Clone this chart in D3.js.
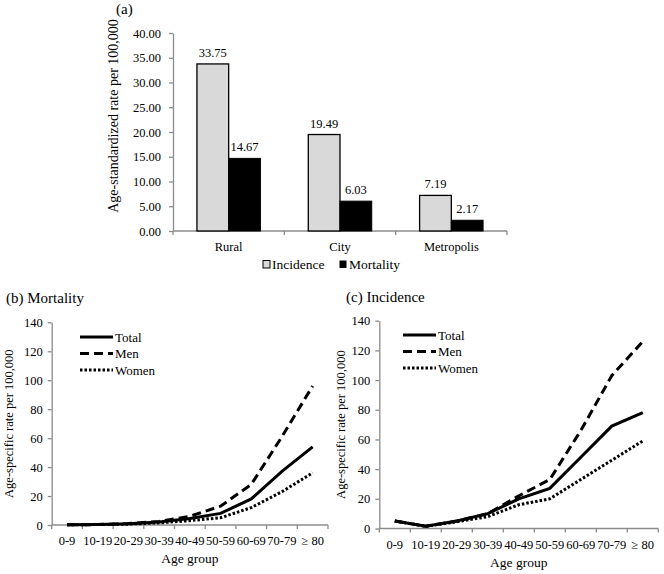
<!DOCTYPE html>
<html><head><meta charset="utf-8">
<script src="https://cdn.jsdelivr.net/npm/d3@7"></script>
<style>body{margin:0;background:#fff}svg{display:block}</style>
</head><body>
<svg id="c" width="664" height="574"></svg>
<script>
// ---- data ----
const areas = ["Rural", "City", "Metropolis"];
const incidenceRate = [33.75, 19.49, 7.19];
const mortalityRate = [14.67, 6.03, 2.17];
const barTicks = [0, 5, 10, 15, 20, 25, 30, 35, 40];

const ageGroups = ["0-9", "10-19", "20-29", "30-39", "40-49", "50-59", "60-69", "70-79", "\u2265 80"];
const mortTotal = [0.1, 0.3, 0.8, 2, 4.5, 8, 18, 37, 54];
const mortMen   = [0.1, 0.3, 1, 2.5, 6, 13, 28, 61, 96];
const mortWomen = [0.1, 0.3, 0.6, 1.5, 3, 5, 12, 23, 36];
const incTotal = [5, 1.5, 5, 10, 20, 27, 48, 69, 78];
const incMen   = [5, 1.5, 5, 10, 22, 33, 66, 103, 126];
const incWomen = [5, 1.5, 4.5, 8, 16, 20, 33, 46, 59];
const lineTicks = [0, 20, 40, 60, 80, 100, 120, 140];
const seriesNames = ["Total", "Men", "Women"];

const FONT = "'Liberation Serif', Tinos, 'Times New Roman', Times, 'DejaVu Serif', 'Noto Serif', serif";
const svg = d3.select("#c").attr("font-family", FONT);
const axisCol = "#8c8c8c";

function styleAxis(g) {
  g.attr("font-family", FONT);
  g.select(".domain").attr("stroke", axisCol).attr("stroke-width", 1.3);
  g.selectAll(".tick line").attr("stroke", axisCol).attr("stroke-width", 1.3);
  g.selectAll("text").attr("font-family", FONT).attr("fill", "#000");
}

// ---- panel (a) ----
{
  const x0 = 173, x1 = 507, yT = 33, yB = 231;
  const x = d3.scaleBand().domain(areas).range([x0, x1]).paddingInner(0.43).paddingOuter(0.215);
  const xb = d3.scaleBand().domain(areas).range([x0, x1]);
  const y = d3.scaleLinear().domain([0, 40]).range([yB, yT]);
  const g = svg.append("g");
  const gy = g.append("g").attr("transform", `translate(${x0},0)`)
    .call(d3.axisLeft(y).tickValues(barTicks).tickFormat(d3.format(".2f")).tickSize(4).tickPadding(8).tickSizeOuter(0));
  styleAxis(gy); gy.selectAll("text").attr("font-size", 12.5);
  g.append("line").attr("x1", x0).attr("x2", x1).attr("y1", yB).attr("y2", yB).attr("stroke", axisCol).attr("stroke-width", 1.3);
  g.selectAll(".bt").data(areas.concat(["end"])).enter().append("line")
    .attr("x1", (d, i) => i < areas.length ? xb(d) : x1).attr("x2", (d, i) => i < areas.length ? xb(d) : x1)
    .attr("y1", yB).attr("y2", yB + 4).attr("stroke", axisCol).attr("stroke-width", 1.3);
  g.selectAll(".xl").data(areas).enter().append("text")
    .attr("x", d => xb(d) + xb.bandwidth() / 2).attr("y", yB + 20).attr("text-anchor", "middle").attr("font-size", 12.5).text(d => d);
  const bw = x.bandwidth() / 2;
  g.selectAll(".bi").data(incidenceRate).enter().append("rect")
    .attr("x", (d, i) => x(areas[i])).attr("width", bw)
    .attr("y", d => y(d)).attr("height", d => yB - y(d))
    .attr("fill", "#d9d9d9").attr("stroke", "#000").attr("stroke-width", 1.3);
  g.selectAll(".bm").data(mortalityRate).enter().append("rect")
    .attr("x", (d, i) => x(areas[i]) + bw).attr("width", bw)
    .attr("y", d => y(d)).attr("height", d => yB - y(d))
    .attr("fill", "#000").attr("stroke", "#000").attr("stroke-width", 1);
  g.selectAll(".li").data(incidenceRate).enter().append("text")
    .attr("x", (d, i) => x(areas[i]) + bw / 2).attr("y", d => y(d) - 7).attr("text-anchor", "middle").attr("font-size", 12.5)
    .text(d => d3.format(".2f")(d));
  g.selectAll(".lm").data(mortalityRate).enter().append("text")
    .attr("x", (d, i) => x(areas[i]) + bw * 1.5).attr("y", d => y(d) - 7).attr("text-anchor", "middle").attr("font-size", 12.5)
    .text(d => d3.format(".2f")(d));
  g.append("text").attr("transform", `translate(118,116) rotate(-90)`).attr("text-anchor", "middle").attr("font-size", 14)
    .text("Age-standardized rate per 100,000");
  g.append("text").attr("x", 116).attr("y", 14).attr("font-size", 15).text("(a)");
  g.append("rect").attr("x", 263).attr("y", 260.5).attr("width", 7).attr("height", 7.5).attr("fill", "#d9d9d9").attr("stroke", "#000").attr("stroke-width", 1);
  g.append("text").attr("x", 272).attr("y", 269).attr("font-size", 13.5).text("Incidence");
  g.append("rect").attr("x", 339.5).attr("y", 260.5).attr("width", 7).attr("height", 7.5).attr("fill", "#000");
  g.append("text").attr("x", 349).attr("y", 269).attr("font-size", 13.5).text("Mortality");
}

// ---- line panels ----
function linePanel(opt) {
  const { x0, x1, yT, yB, title, tx, ty, data, legX, legY, ylx } = opt;
  const g = svg.append("g");
  const x = d3.scaleBand().domain(ageGroups).range([x0, x1]);
  const y = d3.scaleLinear().domain([0, 140]).range([yB, yT]);
  const gy = g.append("g").attr("transform", `translate(${x0},0)`)
    .call(d3.axisLeft(y).tickValues(lineTicks).tickSize(4).tickPadding(5).tickSizeOuter(0));
  styleAxis(gy); gy.selectAll("text").attr("font-size", 12.5);
  g.append("line").attr("x1", x0).attr("x2", x1).attr("y1", yB).attr("y2", yB).attr("stroke", axisCol).attr("stroke-width", 1.3);
  g.selectAll(".bt").data(ageGroups.concat(["end"])).enter().append("line")
    .attr("x1", (d, i) => i < ageGroups.length ? x(d) : x1).attr("x2", (d, i) => i < ageGroups.length ? x(d) : x1)
    .attr("y1", yB).attr("y2", yB + 4).attr("stroke", axisCol).attr("stroke-width", 1.3);
  g.selectAll(".xl").data(ageGroups).enter().append("text")
    .attr("x", d => x(d) + x.bandwidth() / 2).attr("y", yB + 20).attr("text-anchor", "middle").attr("font-size", 12.5).text(d => d);
  g.append("text").attr("x", (x0 + x1) / 2).attr("y", yB + 38).attr("text-anchor", "middle").attr("font-size", 13.5).text("Age group");
  g.append("text").attr("transform", `translate(${ylx},${(yT + yB) / 2}) rotate(-90)`).attr("text-anchor", "middle").attr("font-size", 12.5)
    .text("Age-specific rate per 100,000");
  g.append("text").attr("x", tx).attr("y", ty).attr("font-size", 15).text(title);
  const styles = [null, "9,5", "2.5,2"];
  const line = d3.line().x((d, i) => x(ageGroups[i]) + x.bandwidth() / 2).y(d => y(d));
  data.forEach((s, k) => {
    const p = g.append("path").attr("d", line(s)).attr("fill", "none").attr("stroke", "#000").attr("stroke-width", 3);
    if (styles[k]) p.attr("stroke-dasharray", styles[k]);
    const ly = legY + k * 16.5;
    const l = g.append("line").attr("x1", legX).attr("x2", legX + 33).attr("y1", ly).attr("y2", ly).attr("stroke", "#000").attr("stroke-width", 3);
    if (styles[k]) l.attr("stroke-dasharray", styles[k]);
    g.append("text").attr("x", legX + 35).attr("y", ly + 4.5).attr("font-size", 13).text(seriesNames[k]);
  });
}

linePanel({ x0: 51.7, x1: 328, yT: 322.3, yB: 525, title: "(b) Mortality", tx: 6, ty: 303,
  data: [mortTotal, mortMen, mortWomen], legX: 80, legY: 337, ylx: 13 });
linePanel({ x0: 379.3, x1: 658.3, yT: 320.7, yB: 528.5, title: "(c) Incidence", tx: 346, ty: 302,
  data: [incTotal, incMen, incWomen], legX: 403, legY: 335, ylx: 345 });
</script>
</body></html>
